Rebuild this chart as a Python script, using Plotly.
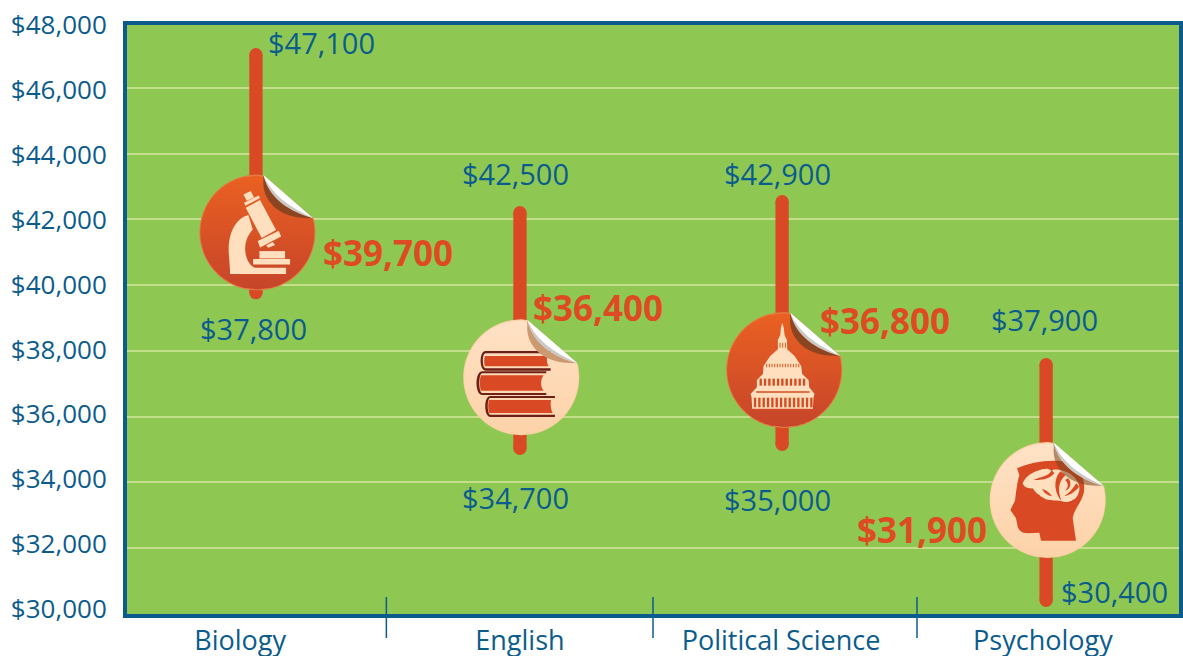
import re
import plotly.graph_objects as go

# ---- data ----
categories = ["Biology", "English", "Political Science", "Psychology"]
bar_x = [-0.004, 0.996, 1.989, 2.989]
bar_high = [47016, 42208, 42543, 37582]
bar_low = [39770, 35031, 35153, 30405]
icon_x = [0.0015, 1.001, 1.997, 2.995]
icon_y = [41605, 37195, 37417, 33461]
grid_vals = [46000, 44000, 42000, 40000, 38000, 36000, 34000, 32000]
tick_vals = list(range(30000, 48001, 2000))
tick_text = ["$30,000", "$32,000", "$34,000", "$36,000", "$38,000", "$40,000", "$42,000", "$44,000", "$46,000", "$48,000"]
cat_tick_pos = [-0.064, 0.996, 1.985, 2.977]
separators = [0.99, 2.0, 3.0]
value_labels = ["$47,100", "$37,800", "$42,500", "$34,700", "$42,900", "$35,000", "$37,900", "$30,400"]
value_px = [(321, 43), (253, 328), (515, 173), (515, 498), (777, 174), (777, 499), (1044, 319), (1114, 591)]
median_labels = ["$39,700", "$36,400", "$36,800", "$31,900"]
median_px = [(388, 253), (598, 307), (885, 320), (922, 529)]

BLUE = "#0B5C8C"
RED = "#D94A24"
LBL = "#DE4B22"
GREEN = "#8EC853"
GRID = "#C3DF8C"
CREAM = "#FFDFBD"
DARK = "#6E1F17"
FONT = "Open Sans"
L, R, T, B = 125, 1181, 23, 616
W, H = 1183, 656

shapes = []


def shape(i, path, fill, line=None, lw=0):
    shapes.append(dict(type="path", path=path, xref="x", yref="y", xsizemode="pixel", ysizemode="pixel",
                       xanchor=icon_x[i], yanchor=icon_y[i], fillcolor=fill, layer="above",
                       line=dict(width=lw, color=line or "rgba(0,0,0,0)")))


def from_zoom(path, cx, cy):
    """path written in 3x crop coordinates -> pixels around the badge centre"""
    idx = 0

    def rep(m):
        nonlocal idx
        v = float(m.group(0))
        r = (v - cx) / 3 if idx % 2 == 0 else (cy - v) / 3
        idx += 1
        return f"{r:.2f}"
    return re.sub(r"-?\d+\.?\d*", rep, path)


def poly(points):
    return "M" + " L".join(f"{x} {y}" for x, y in points) + " Z"


def mix(a, b, t):
    ca = [int(a[k:k + 2], 16) for k in (1, 3, 5)]
    cb = [int(b[k:k + 2], 16) for k in (1, 3, 5)]
    return "#" + "".join(f"{round(p + (q - p) * t):02x}" for p, q in zip(ca, cb))


AX, AY, BX, BY = 6.0, -57.3, 56.0, -14.0


def extents(y, r):
    half = max(r * r - y * y, 0) ** 0.5
    xr = half
    if AY <= y <= BY:
        xr = min(xr, AX + (y - AY) * (BX - AX) / (BY - AY))
    elif y < AY:
        xr = min(xr, AX)
    return -half, xr


def badge(i, rim, top, bottom):
    r = 58.0
    ys = [-r + k for k in range(0, 117)]
    left = [(extents(y, r)[0], -y) for y in ys]
    right = [(extents(y, r)[1], -y) for y in ys]
    shape(i, poly([(f"{x:.2f}", f"{y:.2f}") for x, y in left + right[::-1]]), rim)
    r2 = 57.0
    y = -r2
    while y < r2:
        y1 = min(y + 2.5, r2)
        a, b = extents(y, r2), extents(y1, r2)
        col = mix(top, bottom, (y + r2) / (2 * r2))
        shape(i, poly([(f"{a[0]:.2f}", f"{-y:.2f}"), (f"{a[1]:.2f}", f"{-y:.2f}"),
                       (f"{b[1]:.2f}", f"{-y1:.2f}"), (f"{b[0]:.2f}", f"{-y1:.2f}")]), col)
        y += 2


def peel(i, shade):
    cx, cy = 232, 217  # curl drawn in the crop coordinates of the first badge
    shape(i, from_zoom("M250 60 C245 115 290 178 392 174 L400 175 C350 160 270 130 250 45 Z", cx, cy), shade)
    shape(i, from_zoom("M250 45 L400 175 C350 160 270 130 250 45 Z", cx, cy), "#C9C9C9")
    shape(i, from_zoom("M250 45 L400 175 C345 148 280 115 250 45 Z", cx, cy), "#FFFFFF")


# ---- microscope ----
badge(0, "#E57C45", "#EA6122", "#C6442A")
mc = (232, 217)
for p in [
    "M190 103 L212 93 L222 112 L200 122 Z",
    "M192 128 L236 106 L240 114 L196 137 Z",
    "M197 143 L240 120 L288 210 L245 234 Z",
    "M233 243 L296 212 L303 229 L240 262 Z",
    "M258 256 L278 246 L285 255 L265 263 Z",
    "M238 273 L315 273 L315 295 L238 295 Z",
    "M219 297 L330 297 L330 313 L219 313 Z",
    "M150 342 L318 342 L318 323 L224 323 C195 310 180 250 218 208 L205 165 C165 175 140 225 147 290 C148 310 150 325 150 342 Z",
]:
    shape(0, from_zoom(p, *mc), CREAM)
peel(0, "#8B4520")

# ---- books ----
badge(1, "#FCCFA6", "#FFE2C6", "#FDD2A8")
bc = (215, 232)
books = [
    ("M303 153 L108 153 C88 153 88 212 108 212 L303 212 L303 205 L108 205 C97 205 97 160 108 160 L303 160 Z",
     "M106 168 L294 168 C290 180 292 190 297 199 L106 199 C103 190 103 178 106 168 Z"),
    ("M290 214 L98 214 C75 214 75 285 98 285 L290 285 L290 279 L98 279 C86 279 86 220 98 220 L290 220 Z",
     "M94 226 L282 226 C272 240 272 260 282 272 L94 272 C90 260 90 238 94 226 Z"),
    ("M316 288 L122 288 C102 288 102 351 122 351 L316 351 L316 344 L122 344 C112 344 112 294 122 294 L316 294 Z",
     "M118 300 L304 300 C302 315 304 328 309 339 L118 339 C115 326 115 312 118 300 Z"),
]
for dark, red in books:
    shape(1, from_zoom(dark, *bc), DARK)
    shape(1, from_zoom(red, *bc), RED)
peel(1, "#CB9A70")

# ---- capitol ----
badge(2, "#E57C45", "#EA6122", "#C6442A")
cc = (224, 210)
sil = ("M218 68 L223 85 L225 105 L232 120 L233 148 L255 168 L275 198 L278 222 L297 240 L299 262 "
       "L315 282 L312 292 L310 326 L128 326 L126 292 L123 282 L142 262 L142 240 L160 222 L162 198 "
       "L182 168 L205 148 L205 120 L212 105 L214 85 Z")
shape(2, from_zoom(sil, *cc), CREAM)
for k in range(14):
    x = 133 + k * 13
    shape(2, from_zoom(f"M{x} 293 L{x + 7} 293 L{x + 7} 322 L{x} 322 Z", *cc), "#D44C22")
for k in range(11):
    x = 150 + k * 13
    shape(2, from_zoom(f"M{x} 236 L{x + 7} 236 L{x + 7} 257 L{x} 257 Z", *cc), "#D44C22")
for k in range(13):
    x = 170 + k * 8
    shape(2, from_zoom(f"M{x} 191 L{x + 3} 191 L{x + 3} 202 L{x} 202 Z", *cc), "#D9521F")
for x in (211, 219, 227):
    shape(2, from_zoom(f"M{x - 1} 128 L{x + 2} 128 L{x + 2} 143 L{x - 1} 143 Z", *cc), "#E05A20")
shape(2, from_zoom("M140 274 L300 274 L300 278 L140 278 Z", *cc), "#D44C22")
peel(2, "#8B4520")

# ---- head ----
badge(3, "#FCCFA6", "#FFE2C6", "#FDD2A8")
hc = (220, 210)
head = ("M305 332 L200 332 L195 308 L160 310 C140 310 130 300 128 280 L125 265 L108 240 L122 212 "
        "C125 185 128 160 135 135 L128 115 C170 95 240 85 285 98 C320 110 335 150 328 190 C320 220 298 240 295 265 Z")
shape(3, from_zoom(head, *hc), RED)
brain = ("M145 160 C150 145 165 130 190 122 C205 118 220 112 230 122 C240 115 265 118 285 130 C305 142 318 165 315 180 "
         "C312 195 305 208 295 210 C285 216 275 218 268 215 C258 210 240 214 225 210 C210 208 200 200 195 195 "
         "C185 190 180 182 175 175 C165 176 150 175 145 160 Z")
shape(3, from_zoom(brain, *hc), CREAM)
for p in [
    "M232 120 C225 140 195 140 178 150 C190 150 222 152 240 130 Z",
    "M258 124 C235 150 240 190 262 214 C250 185 250 155 274 135 Z",
    "M203 177 C218 180 226 190 234 199 C220 197 210 190 203 177 Z",
    "M306 160 C296 175 285 190 270 198 C285 196 302 186 314 170 Z",
    "M272 150 C285 160 281 175 272 183 C290 178 293 155 281 145 Z",
]:
    shape(3, from_zoom(p, *hc), RED)
peel(3, "rgba(120,70,30,0.55)")

# ---- frame and separators ----
shapes.append(dict(type="rect", xref="paper", yref="paper", x0=0, x1=1, y0=0, y1=1, layer="above",
                   line=dict(color=BLUE, width=4), fillcolor="rgba(0,0,0,0)"))
for s in separators:
    shapes.append(dict(type="line", xref="x", yref="paper", x0=s - 0.5, x1=s - 0.5, y0=(B - 597) / (B - T),
                       y1=(B - 638) / (B - T), layer="above", line=dict(color=BLUE, width=1.5)))

fig = go.Figure()
for x, hi, lo in zip(bar_x, bar_high, bar_low):
    fig.add_trace(go.Scatter(x=[x, x], y=[lo, hi], mode="lines+markers", line=dict(color=RED, width=13.3),
                             marker=dict(color=RED, size=13.3), showlegend=False, hoverinfo="skip"))
fig.add_trace(go.Scatter(x=[bar_x[0]], y=[tick_vals[0]], yaxis="y2", mode="markers", marker=dict(opacity=0),
                         showlegend=False, hoverinfo="skip"))


def ann(text, pos, size, bold=False, color=BLUE):
    return dict(text=f"<b>{text}</b>" if bold else text, xref="paper", yref="paper", showarrow=False,
                x=(pos[0] - L) / (R - L), y=(B - pos[1]) / (B - T), xanchor="center", yanchor="middle",
                font=dict(family=FONT, size=size, color=color))


annotations = [ann(t, p, 29) for t, p in zip(value_labels, value_px)]
annotations += [ann(t, p, 35, True, LBL) for t, p in zip(median_labels, median_px)]

fig.update_layout(
    width=W, height=H, margin=dict(l=L, r=W - R, t=T, b=H - B, pad=0, autoexpand=False),
    paper_bgcolor="white", plot_bgcolor=GREEN, showlegend=False, shapes=shapes, annotations=annotations,
    xaxis=dict(range=[-0.5, 3.5], tickmode="array", tickvals=cat_tick_pos, ticktext=categories, showgrid=False,
               automargin=False, zeroline=False, showline=False, ticks="outside", ticklen=1,
               tickcolor="rgba(0,0,0,0)", tickfont=dict(family=FONT, size=27, color=BLUE)),
    yaxis=dict(range=[29930, 47979], tickmode="array", tickvals=grid_vals, showticklabels=False, showgrid=True,
               automargin=False, gridcolor=GRID, gridwidth=2, zeroline=False, showline=False, ticks=""),
    yaxis2=dict(overlaying="y", side="left", range=[29784, 48062], tickmode="array", tickvals=tick_vals,
                ticktext=tick_text, showgrid=False, automargin=False, zeroline=False, showline=False, ticks="outside",
                ticklen=12, tickcolor="rgba(0,0,0,0)", tickfont=dict(family=FONT, size=26, color=BLUE)),
)
fig.write_html("out.html", config=dict(displayModeBar=False),
               post_script="document.body.style.margin='0';document.body.style.overflow='hidden';")
